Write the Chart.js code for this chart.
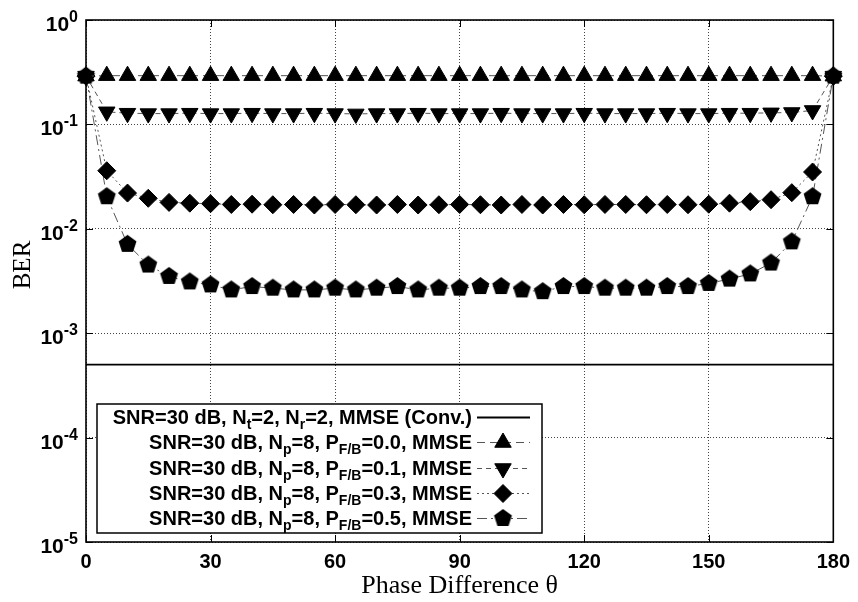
<!DOCTYPE html>
<html>
<head>
<meta charset="utf-8">
<script src="https://cdn.jsdelivr.net/npm/chart.js@4.4.0/dist/chart.umd.min.js"></script>
<style>
  body { margin: 0; background: #fff; }
  #wrap { width: 858px; height: 602px; }
</style>
</head>
<body>
<div id="wrap"><canvas id="berChart"></canvas></div>
<script>
// phase difference in degrees
const theta = [0, 5, 10, 15, 20, 25, 30, 35, 40, 45, 50, 55, 60, 65, 70, 75, 80, 85, 90,
               95, 100, 105, 110, 115, 120, 125, 130, 135, 140, 145, 150, 155, 160, 165, 170, 175, 180];

// BER values
const berP00 = [0.29, 0.293, 0.293, 0.293, 0.293, 0.293, 0.293, 0.293, 0.293, 0.293, 0.293, 0.293, 0.293,
                0.293, 0.293, 0.293, 0.293, 0.293, 0.293, 0.293, 0.293, 0.293, 0.293, 0.293, 0.293,
                0.293, 0.293, 0.293, 0.293, 0.293, 0.293, 0.293, 0.293, 0.293, 0.293, 0.293, 0.29];
const berP01 = [0.29, 0.132, 0.128, 0.127, 0.127, 0.128, 0.127, 0.127, 0.128, 0.127, 0.127, 0.128, 0.127,
                0.126, 0.127, 0.127, 0.128, 0.127, 0.127, 0.127, 0.128, 0.127, 0.127, 0.127, 0.128,
                0.127, 0.127, 0.127, 0.128, 0.127, 0.127, 0.128, 0.128, 0.129, 0.130, 0.136, 0.29];
const berP03 = [0.29, 0.036, 0.022, 0.0196, 0.0179, 0.0176, 0.0174, 0.0171, 0.0172, 0.017, 0.0171, 0.0169, 0.0171,
                0.017, 0.0169, 0.0171, 0.0169, 0.017, 0.0171, 0.017, 0.0169, 0.0171, 0.0169, 0.0171, 0.017,
                0.0171, 0.0171, 0.017, 0.0171, 0.017, 0.0172, 0.0176, 0.0182, 0.019, 0.0222, 0.035, 0.29];
const berP05 = [0.29, 0.0203, 0.0071, 0.0045, 0.0035, 0.0031, 0.0029, 0.0026, 0.0028, 0.0027, 0.0026, 0.0026, 0.0027,
                0.0026, 0.0027, 0.0028, 0.0026, 0.0027, 0.0027, 0.0028, 0.0028, 0.0026, 0.0025, 0.0028, 0.0028,
                0.0027, 0.0027, 0.0027, 0.0028, 0.0028, 0.0030, 0.0033, 0.0037, 0.0047, 0.0075, 0.0203, 0.29];

// conventional MMSE reference (flat line)
const convTheta = [0, 180];
const convBER = [5e-4, 5e-4];

const xTicks = [0, 30, 60, 90, 120, 150, 180];
const yTicks = [1e-5, 1e-4, 1e-3, 1e-2, 1e-1, 1];

// legend text pieces: [text, isSubscript]
const legendLabels = [
    [['SNR=30 dB, N', 0], ['t', 1], ['=2, N', 0], ['r', 1], ['=2, MMSE (Conv.)', 0]],
    [['SNR=30 dB, N', 0], ['p', 1], ['=8, P', 0], ['F/B', 1], ['=0.0, MMSE', 0]],
    [['SNR=30 dB, N', 0], ['p', 1], ['=8, P', 0], ['F/B', 1], ['=0.1, MMSE', 0]],
    [['SNR=30 dB, N', 0], ['p', 1], ['=8, P', 0], ['F/B', 1], ['=0.3, MMSE', 0]],
    [['SNR=30 dB, N', 0], ['p', 1], ['=8, P', 0], ['F/B', 1], ['=0.5, MMSE', 0]]
];

const SANS = '"Liberation Sans", Arial, sans-serif';
const SERIF = '"Liberation Serif", "Times New Roman", serif';

// pentagon marker (no built-in style for it)
function makePentagon(r) {
    const c = document.createElement('canvas');
    const s = Math.ceil(r * 2) + 2;
    c.width = s;
    c.height = s;
    const g = c.getContext('2d');
    g.beginPath();
    for (let i = 0; i < 5; i++) {
        const a = -Math.PI / 2 + i * 2 * Math.PI / 5;
        const px = s / 2 + r * Math.cos(a);
        const py = s / 2 + r * Math.sin(a);
        if (i === 0) g.moveTo(px, py); else g.lineTo(px, py);
    }
    g.closePath();
    g.fillStyle = '#000';
    g.fill();
    return c;
}
const pentagon = makePentagon(9.4);

function toPoints(xs, ys) {
    return xs.map((x, i) => ({ x: x, y: ys[i] }));
}

function drawRich(ctx, parts, right, base) {
    const mainFont = 'bold 20px ' + SANS;
    const subFont = 'bold 14px ' + SANS;
    const widths = parts.map(p => {
        ctx.font = p[1] ? subFont : mainFont;
        return ctx.measureText(p[0]).width;
    });
    let xx = right - widths.reduce((s, w) => s + w, 0);
    parts.forEach((p, i) => {
        ctx.font = p[1] ? subFont : mainFont;
        ctx.fillText(p[0], xx, p[1] ? base + 5 : base);
        xx += widths[i];
    });
}

function drawMarker(ctx, ds, x, y) {
    if (!ds.pointRadius) return;
    ctx.fillStyle = '#000';
    ctx.strokeStyle = '#000';
    ctx.lineWidth = 1;
    ctx.setLineDash([]);
    const opts = { pointStyle: ds.pointStyle, rotation: ds.pointRotation || 0, radius: ds.pointRadius, borderWidth: 1 };
    Chart.helpers.drawPoint(ctx, opts, x, y);
}

const framePlugin = {
    id: 'framePlugin',
    beforeDatasetsDraw(chart) {
        const { ctx, chartArea: a, scales } = chart;
        ctx.save();
        ctx.strokeStyle = '#000';
        ctx.lineWidth = 1;
        ctx.beginPath();
        yTicks.forEach(v => {
            const py = Math.round(scales.y.getPixelForValue(v)) + 0.5;
            ctx.moveTo(a.left, py); ctx.lineTo(a.left + 7, py);
            ctx.moveTo(a.right, py); ctx.lineTo(a.right - 7, py);
        });
        xTicks.forEach(v => {
            const px = Math.round(scales.x.getPixelForValue(v)) + 0.5;
            ctx.moveTo(px, a.bottom); ctx.lineTo(px, a.bottom - 7);
            ctx.moveTo(px, a.top); ctx.lineTo(px, a.top + 7);
        });
        ctx.stroke();
        ctx.lineWidth = 1.6;
        ctx.strokeRect(a.left, a.top, a.right - a.left, a.bottom - a.top);
        ctx.restore();
    },
    afterDraw(chart) {
        const { ctx, scales } = chart;
        ctx.save();
        ctx.fillStyle = '#000';

        // y tick labels as 10^n
        yTicks.forEach(v => {
            const py = scales.y.getPixelForValue(v);
            const expo = String(Math.round(Math.log10(v)));
            ctx.font = 'bold 16px ' + SANS;
            const ew = ctx.measureText(expo).width;
            ctx.textAlign = 'left';
            ctx.textBaseline = 'alphabetic';
            ctx.fillText(expo, 78 - ew, py + 2);
            ctx.font = 'bold 21px ' + SANS;
            ctx.textAlign = 'right';
            ctx.fillText('10', 78 - ew, py + 11);
        });

        // y axis title
        ctx.save();
        ctx.translate(23, 265);
        ctx.rotate(-Math.PI / 2);
        ctx.font = '25px ' + SERIF;
        ctx.textAlign = 'center';
        ctx.textBaseline = 'middle';
        ctx.fillText('BER', 0, 0);
        ctx.restore();

        // legend box
        const bx = 97, by = 404, bw = 445, bh = 129;
        ctx.fillStyle = '#fff';
        ctx.fillRect(bx, by, bw, bh);
        ctx.strokeStyle = '#000';
        ctx.lineWidth = 1.5;
        ctx.strokeRect(bx, by, bw, bh);

        ctx.textAlign = 'left';
        ctx.textBaseline = 'alphabetic';
        legendLabels.forEach((parts, i) => {
            const base = 424 + i * 25.3;
            ctx.fillStyle = '#000';
            drawRich(ctx, parts, 472, base);
            const ds = chart.data.datasets[i];
            const ly = Math.round(base - 7) + 0.5;
            ctx.save();
            ctx.strokeStyle = ds.borderColor;
            ctx.lineWidth = ds.borderWidth;
            ctx.setLineDash(ds.borderDash || []);
            ctx.beginPath();
            ctx.moveTo(477, ly);
            ctx.lineTo(530, ly);
            ctx.stroke();
            drawMarker(ctx, ds, 503, ly);
            ctx.restore();
        });
        ctx.restore();
    }
};

const ctx = document.getElementById('berChart').getContext('2d');
new Chart(ctx, {
    type: 'line',
    data: {
        datasets: [
            {
                label: 'Conv.',
                data: toPoints(convTheta, convBER),
                borderColor: '#000',
                borderWidth: 1.8,
                pointRadius: 0
            },
            {
                label: 'P=0.0',
                data: toPoints(theta, berP00),
                borderColor: '#555',
                borderWidth: 1,
                borderDash: [8, 5],
                pointStyle: 'triangle',
                pointRadius: 9.5,
                pointBackgroundColor: '#000',
                pointBorderColor: '#000',
                pointBorderWidth: 1
            },
            {
                label: 'P=0.1',
                data: toPoints(theta, berP01),
                borderColor: '#555',
                borderWidth: 1,
                borderDash: [5, 4],
                pointStyle: 'triangle',
                pointRotation: 180,
                pointRadius: 9.5,
                pointBackgroundColor: '#000',
                pointBorderColor: '#000',
                pointBorderWidth: 1
            },
            {
                label: 'P=0.3',
                data: toPoints(theta, berP03),
                borderColor: '#555',
                borderWidth: 1,
                borderDash: [2, 3],
                pointStyle: 'rectRot',
                pointRadius: 9,
                pointBackgroundColor: '#000',
                pointBorderColor: '#000',
                pointBorderWidth: 1
            },
            {
                label: 'P=0.5',
                data: toPoints(theta, berP05),
                borderColor: '#555',
                borderWidth: 1,
                borderDash: [10, 4, 2, 4],
                pointStyle: pentagon,
                pointRadius: 9,
                pointBackgroundColor: '#000',
                pointBorderColor: '#000'
            }
        ]
    },
    options: {
        responsive: true,
        maintainAspectRatio: false,
        animation: false,
        clip: false,
        elements: { line: { tension: 0 } },
        layout: { autoPadding: false, padding: { top: 20, right: 23, left: 0, bottom: 0 } },
        plugins: { legend: { display: false }, tooltip: { enabled: false } },
        scales: {
            x: {
                type: 'linear',
                min: 0,
                max: 180,
                afterBuildTicks: s => { s.ticks = xTicks.map(v => ({ value: v })); },
                afterFit: s => { s.height = 60; },
                ticks: {
                    color: '#000',
                    font: { family: SANS, size: 20, weight: 'bold' },
                    padding: 8,
                    maxRotation: 0
                },
                grid: { color: '#444', lineWidth: 1, drawTicks: false },
                border: { display: false, dash: [1, 2] },
                title: {
                    display: true,
                    text: 'Phase Difference θ',
                    color: '#000',
                    font: { family: SERIF, size: 26 },
                    padding: { top: 0, bottom: 0 }
                }
            },
            y: {
                type: 'logarithmic',
                min: 1e-5,
                max: 1,
                afterBuildTicks: s => { s.ticks = yTicks.map(v => ({ value: v })); },
                afterFit: s => { s.width = 86; },
                ticks: { display: false },
                grid: { color: '#444', lineWidth: 1, drawTicks: false },
                border: { display: false, dash: [1, 2] }
            }
        }
    },
    plugins: [framePlugin]
});
</script>
</body>
</html>
